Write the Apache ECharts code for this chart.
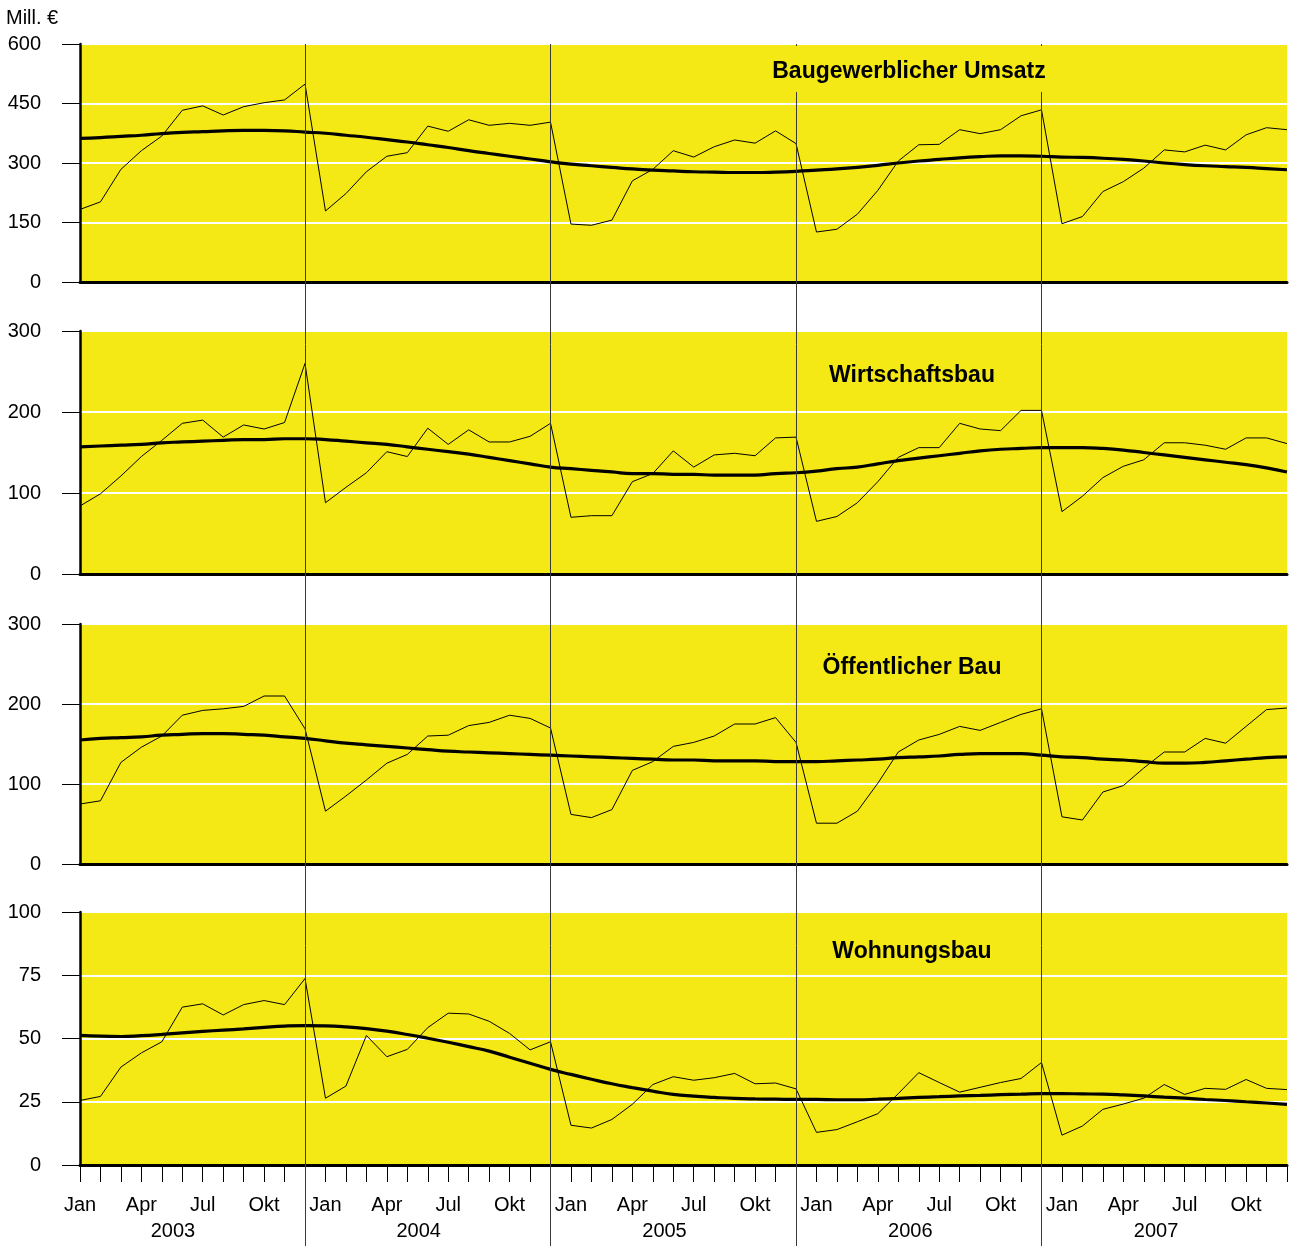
<!DOCTYPE html>
<html>
<head>
<meta charset="utf-8">
<script src="https://cdn.jsdelivr.net/npm/echarts@6/dist/echarts.min.js"></script>
<style>
html,body{margin:0;padding:0;background:#fff;}
#chart{width:1290px;height:1246px;}
</style>
</head>
<body>
<div id="chart"></div>
<script>
// ---- data ----
const years = ['2003', '2004', '2005', '2006', '2007'];
const monthNames = ['Jan', '', '', 'Apr', '', '', 'Jul', '', '', 'Okt', '', ''];
const months = [];
years.forEach(y => { for (let m = 1; m <= 12; m++) months.push(y + '-' + (m < 10 ? '0' + m : m)); });
const yearEndMonths = ['2003-12', '2004-12', '2005-12', '2006-12'];

const panelTitles = ['Baugewerblicher Umsatz', 'Wirtschaftsbau', 'Öffentlicher Bau', 'Wohnungsbau'];
const yMax = [600, 300, 300, 100];
const yInterval = [150, 100, 100, 25];
const unitLabel = 'Mill. €';

const umsatzRaw = [183,202,284,331,368,433,444,421,442,452,459,499,
  179,223,278,317,326,393,380,409,395,400,395,403,
  146,143,156,255,284,331,315,341,358,350,381,349,
  126,133,171,231,305,346,347,384,374,384,419,434,
  147,165,228,253,287,333,328,345,333,371,389,384];
const umsatzTrend = [362,364,367,370,374,377,379,381,382,382,381,378,
  375,370,365,359,353,346,339,331,324,317,310,303,
  297,293,289,285,282,280,278,277,276,276,277,279,
  282,285,289,294,300,305,309,313,316,318,318,317,
  315,314,312,309,305,300,296,293,291,289,286,283];

const wirtRaw = [84,99,121,145,165,186,190,169,184,179,187,260,
  88,107,125,151,145,180,160,178,163,163,170,186,
  70,72,72,114,124,152,132,147,149,146,168,169,
  65,71,88,114,144,156,156,186,179,177,202,202,
  77,96,119,133,141,162,162,159,154,168,168,161];
const wirtTrend = [157,158,159,160,162,163,164,165,166,166,167,167,
  166,164,162,160,157,154,151,148,144,140,136,132,
  130,128,126,124,124,123,123,122,122,122,124,125,
  127,130,132,136,140,143,146,149,152,154,155,156,
  156,156,155,153,150,147,144,141,138,135,131,126];

const oeffRaw = [75,79,127,146,160,186,192,194,197,210,210,169,
  66,85,105,126,137,160,161,173,177,186,182,170,
  62,58,68,117,128,147,152,160,175,175,183,152,
  51,51,66,101,140,155,162,172,167,177,187,194,
  59,55,90,98,120,140,140,157,151,172,193,195];
const oeffTrend = [155,157,158,159,161,162,163,163,162,161,159,157,
  154,151,149,147,145,143,141,140,139,138,137,136,
  135,134,133,132,131,130,130,129,129,129,128,128,
  128,129,130,131,133,134,135,137,138,138,138,136,
  134,133,131,130,128,126,126,127,129,131,133,134];

const wohnRaw = [25.5,27.1,38.7,44.3,48.7,62.4,63.7,59.3,63.4,65,63.4,73.7,
  26.4,31.2,51.2,42.8,45.7,54.3,60,59.7,56.8,52,45.5,48.7,
  15.7,14.6,18,24,31.8,34.9,33.5,34.5,36.2,32.1,32.4,30.1,
  12.9,14,17.1,20.3,28.2,36.5,32.6,28.8,30.7,32.6,34.2,40.5,
  11.8,15.4,22,24.1,26.4,31.8,27.9,30.3,29.9,33.8,30.3,29.8];
const wohnTrend = [51.2,50.9,50.8,51.1,51.6,52.2,52.8,53.3,53.8,54.4,54.9,55.1,
  55.0,54.6,53.9,52.9,51.6,50.1,48.5,46.8,45.0,42.6,40.2,37.8,
  35.8,33.9,32.1,30.6,29.2,27.9,27.2,26.7,26.3,26.1,26.0,25.9,
  25.9,25.8,25.8,26.0,26.3,26.7,27.0,27.3,27.5,27.8,28.0,28.2,
  28.2,28.1,28.0,27.7,27.3,26.8,26.4,25.9,25.5,25.0,24.5,24.0];

const rawSeries = [umsatzRaw, wirtRaw, oeffRaw, wohnRaw];
const trendSeries = [umsatzTrend, wirtTrend, oeffTrend, wohnTrend];

// ---- layout ----
const YELLOW = '#F4E914';
const FONT = '"Liberation Sans", Arial, sans-serif';
const panelTop = [44, 331, 624, 912];
const panelHeight = [238, 243, 240, 253];
const plotLeft = 80, plotWidth = 1207;
const titleCenterY = [71, 374, 666, 950];
const titleCenterX = [905, 912, 912, 912];

const grids = [], xAxes = [], yAxes = [], series = [], titles = [];

titles.push({ text: unitLabel, left: 6, top: 8, padding: 0,
  textStyle: { fontFamily: FONT, fontSize: 20, fontWeight: 'normal', color: '#000' } });

for (let i = 0; i < 4; i++) {
  grids.push({ left: plotLeft, width: plotWidth, top: panelTop[i], height: panelHeight[i],
    show: true, backgroundColor: YELLOW, borderWidth: 0 });
  xAxes.push({
    type: 'category', gridIndex: i, data: months, boundaryGap: false,
    axisLine: { show: true, lineStyle: { color: '#000', width: 3 } },
    axisTick: { show: i === 3, interval: 0, length: 17, lineStyle: { color: '#000', width: 1 } },
    axisLabel: { show: i === 3, interval: 0, fontFamily: FONT, fontSize: 20, color: '#000', margin: 30,
      formatter: (v, idx) => monthNames[idx % 12] },
    splitLine: { show: false }
  });
  yAxes.push({
    type: 'value', gridIndex: i, min: 0, max: yMax[i], interval: yInterval[i],
    axisLine: { show: true, lineStyle: { color: '#000', width: 2.5 } },
    axisTick: { show: true, length: 18, lineStyle: { color: '#000', width: 1 } },
    axisLabel: { fontFamily: FONT, fontSize: 20, color: '#000', margin: 39 },
    splitLine: { show: true, lineStyle: { color: '#fff', width: 2 } }
  });
  series.push({ type: 'line', xAxisIndex: i, yAxisIndex: i, data: rawSeries[i], symbol: 'none',
    silent: true, lineStyle: { color: '#000', width: 1 }, z: 3 });
  series.push({ type: 'line', xAxisIndex: i, yAxisIndex: i, data: trendSeries[i], symbol: 'none',
    smooth: true, silent: true, lineStyle: { color: '#000', width: 3.2 }, z: 4 });
  const isFirst = i === 0;
  titles.push({
    text: panelTitles[i], left: titleCenterX[i], textAlign: 'center',
    top: isFirst ? 46 : titleCenterY[i] - 10,
    padding: isFirst ? [14, 4, 9, 4] : 0,
    backgroundColor: isFirst ? YELLOW : 'transparent',
    textStyle: { fontFamily: FONT, fontSize: 23, fontWeight: 'bold', color: '#000' }
  });
}

// overlay grid for year separators
grids.push({ left: plotLeft, width: plotWidth, top: 44, height: 1202 });
xAxes.push({ type: 'category', gridIndex: 4, data: months, boundaryGap: false, show: false });
yAxes.push({ type: 'value', gridIndex: 4, min: 0, max: 1, show: false });
series.push({
  type: 'line', xAxisIndex: 4, yAxisIndex: 4, data: [], symbol: 'none', silent: true,
  markLine: { symbol: ['none', 'none'], silent: true, animation: false, label: { show: false },
    lineStyle: { color: '#3a3a3a', width: 1, type: 'solid' },
    emphasis: { disabled: true },
    data: yearEndMonths.map(m => ({ xAxis: m })) }
});

// year label axis
grids.push({ left: 50, width: 1229, top: 1155, height: 10 });
xAxes.push({ type: 'category', gridIndex: 5, data: years, boundaryGap: true,
  axisLine: { show: false }, axisTick: { show: false },
  axisLabel: { fontFamily: FONT, fontSize: 20, color: '#000', margin: 56 } });
yAxes.push({ type: 'value', gridIndex: 5, show: false });

const chart = echarts.init(document.getElementById('chart'), null, { renderer: 'canvas' });
chart.setOption({
  animation: false,
  backgroundColor: '#fff',
  textStyle: { fontFamily: FONT },
  title: titles,
  grid: grids,
  xAxis: xAxes,
  yAxis: yAxes,
  series: series
});
</script>
</body>
</html>
